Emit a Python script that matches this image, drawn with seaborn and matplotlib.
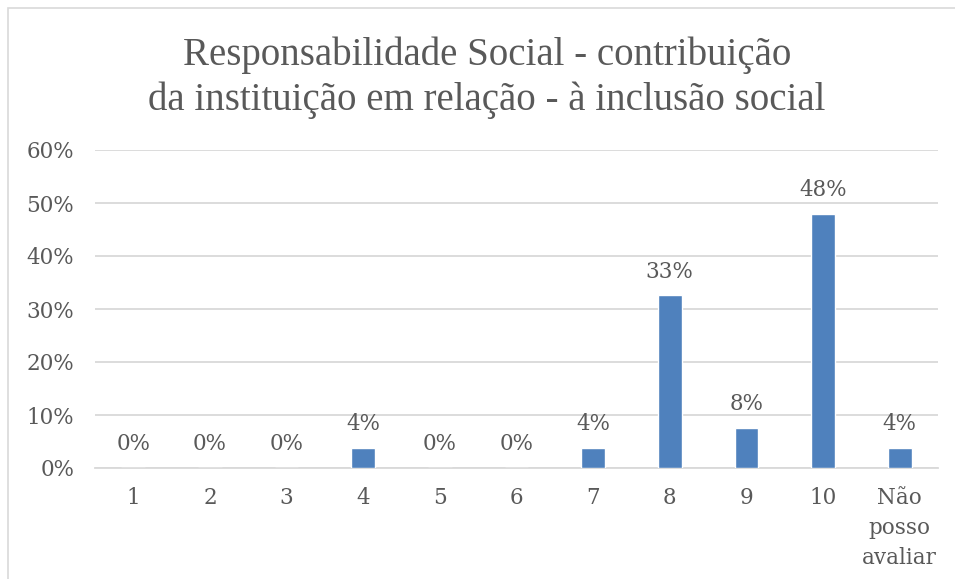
import matplotlib
matplotlib.use("Agg")
import matplotlib.pyplot as plt
import seaborn as sns
import pandas as pd
from matplotlib.patches import Rectangle
from matplotlib.ticker import PercentFormatter

categories = ["1", "2", "3", "4", "5", "6", "7", "8", "9", "10", "Não\nposso\navaliar"]
values = [0.0, 0.0, 0.0, 0.038, 0.0, 0.0, 0.038, 0.326, 0.076, 0.48, 0.038]
labels = ["0%", "0%", "0%", "4%", "0%", "0%", "4%", "33%", "8%", "48%", "4%"]
title = "Responsabilidade Social - contribuição\nda instituição em relação - à inclusão social"

sns.set_theme(style="white")
plt.rcParams['font.family'] = ['DejaVu Serif']

df = pd.DataFrame({"cat": categories, "val": values})

W, H = 955, 579
fig = plt.figure(figsize=(W / 100, H / 100), dpi=100)
ax = fig.add_axes([95 / W, (H - 468) / H, (938 - 95) / W, (468 - 150) / H])

text_color = "#595959"
fs = 15.5
sns.barplot(data=df, x="cat", y="val", color="#4F81BD", width=0.31,
            saturation=1, ax=ax, zorder=3)

ax.set_ylim(0, 0.6)
ax.set_yticks([0, 0.1, 0.2, 0.3, 0.4, 0.5, 0.6])
ax.yaxis.set_major_formatter(PercentFormatter(1.0, decimals=0))
ax.grid(axis="y", color="#D9D9D9", linewidth=1.3, zorder=0)
ax.set_axisbelow(True)
for s in ["top", "right", "left"]:
    ax.spines[s].set_visible(False)
ax.spines["bottom"].set_color("#D9D9D9")
ax.spines["bottom"].set_linewidth(1.3)
ax.set_xlabel("")
ax.set_ylabel("")
ax.tick_params(axis="both", length=0, labelsize=fs, colors=text_color)
ax.tick_params(axis="y", pad=15)
ax.tick_params(axis="x", pad=14)
for t in ax.get_xticklabels():
    t.set_linespacing(1.45)
    t.set_verticalalignment("top")

for p, lab in zip(ax.patches, labels):
    x = p.get_x() + p.get_width() / 2
    y = p.get_height()
    ax.annotate(lab, (x, y), xytext=(0, 9), textcoords="offset points",
                ha="center", va="bottom", fontsize=fs, color=text_color)

fig.text(0.51, 1 - 78 / H, title, ha="center", va="center", fontsize=28,
         color=text_color, linespacing=1.28, family=['Liberation Serif'])

fig.patches.append(Rectangle((8 / W, -0.01), 1.0, 1 - 8 / H + 0.01,
                             transform=fig.transFigure, fill=False,
                             edgecolor="#D9D9D9", linewidth=1.2))

fig.savefig("out.png", dpi=100)
